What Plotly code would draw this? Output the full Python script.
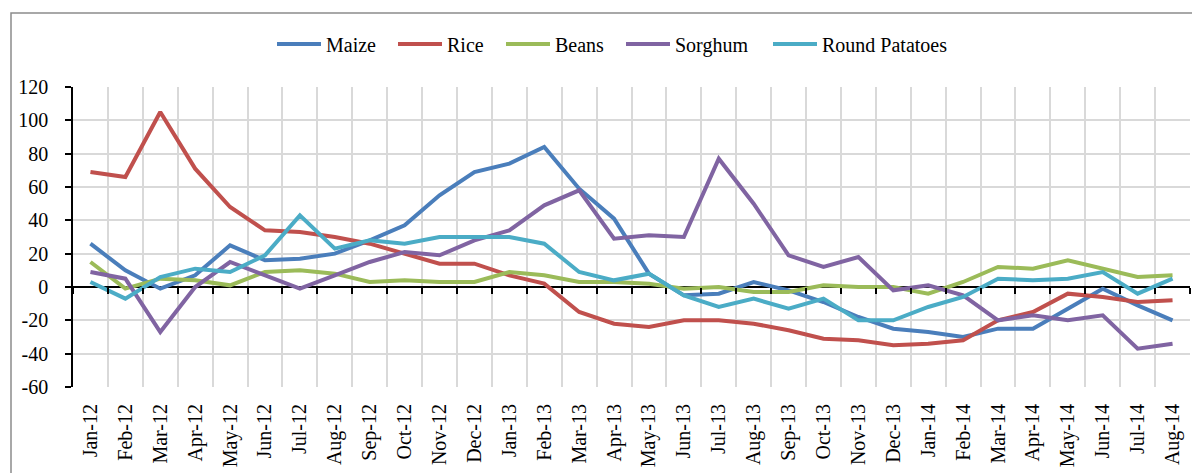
import plotly.graph_objects as go

months = ["Jan-12","Feb-12","Mar-12","Apr-12","May-12","Jun-12","Jul-12","Aug-12","Sep-12","Oct-12","Nov-12","Dec-12",
          "Jan-13","Feb-13","Mar-13","Apr-13","May-13","Jun-13","Jul-13","Aug-13","Sep-13","Oct-13","Nov-13","Dec-13",
          "Jan-14","Feb-14","Mar-14","Apr-14","May-14","Jun-14","Jul-14","Aug-14"]

maize = [26, 10, -1, 7, 25, 16, 17, 20, 28, 37, 55, 69, 74, 84, 59, 41, 8, -5, -4, 3, -2, -9, -18, -25, -27, -30, -25, -25, -13, -1, -11, -20]
rice = [69, 66, 105, 71, 48, 34, 33, 30, 26, 20, 14, 14, 7, 2, -15, -22, -24, -20, -20, -22, -26, -31, -32, -35, -34, -32, -20, -15, -4, -6, -9, -8]
beans = [15, -1, 5, 4, 1, 9, 10, 8, 3, 4, 3, 3, 9, 7, 3, 3, 2, -1, 0, -3, -3, 1, 0, 0, -4, 3, 12, 11, 16, 11, 6, 7]
sorghum = [9, 5, -27, 0, 15, 7, -1, 7, 15, 21, 19, 28, 34, 49, 58, 29, 31, 30, 77, 50, 19, 12, 18, -2, 1, -5, -20, -17, -20, -17, -37, -34]
potatoes = [3, -7, 6, 11, 9, 19, 43, 23, 28, 26, 30, 30, 30, 26, 9, 4, 8, -5, -12, -7, -13, -7, -20, -20, -12, -6, 5, 4, 5, 9, -4, 5]

y_tick_values = [-60, -40, -20, 0, 20, 40, 60, 80, 100, 120]
y_tick_labels = ["-60", "-40", "-20", "0", "20", "40", "60", "80", "100", "120"]

names = ["Maize", "Rice", "Beans", "Sorghum", "Round Patatoes"]
values = [maize, rice, beans, sorghum, potatoes]
colors = ["#4A7EBB", "#C0504D", "#9BBB59", "#8064A2", "#4BACC6"]
# legend entry left edges (px in the page) as laid out in the reference
legend_px = [279, 400, 508, 628, 775]

font_family = "Liberation Serif, Times New Roman, serif"
OFF = 8  # default page body margin
W, H = 1200 - OFF, 473 - OFF
L, T = 73 - OFF, 87 - OFF
R = W - (1190 - OFF)
B = H - (387 - OFF)
PW = W - L - R
PH = H - T - B

fig = go.Figure()
legend_ids = ["legend", "legend2", "legend3", "legend4", "legend5"]
for name, vals, color, lid in zip(names, values, colors, legend_ids):
    fig.add_trace(go.Scatter(x=months, y=vals, name=name, mode="lines",
                             line=dict(color=color, width=4), legend=lid))

# invisible trace for the tick-mark axis at y=0
fig.add_trace(go.Scatter(x=months, y=[None] * len(months), xaxis="x2", showlegend=False,
                         hoverinfo="skip", mode="lines"))

ymin, ymax = y_tick_values[0], y_tick_values[-1]

legends = {}
for lid, px in zip(legend_ids, legend_px):
    legends[lid] = dict(orientation="h", x=(px - OFF - 7 - L) / PW, xanchor="left",
                        y=(T + PH - (44 - OFF)) / PH, yanchor="middle",
                        font=dict(size=20, family=font_family, color="black"),
                        bgcolor="rgba(0,0,0,0)", borderwidth=0, itemwidth=44)

fig.update_layout(
    width=W, height=H,
    margin=dict(l=L, r=R, t=T, b=B, autoexpand=False),
    paper_bgcolor="white", plot_bgcolor="white",
    font=dict(family=font_family, size=20, color="black"),
    showlegend=True,
    **legends,
    xaxis=dict(type="category", categoryorder="array", categoryarray=months,
               range=[-0.5, len(months) - 0.5], automargin=False,
               showgrid=True, gridcolor="#D9D9D9", gridwidth=1.5, tickson="boundaries",
               ticks="", tickangle=-90, tickfont=dict(size=20, family=font_family),
               showline=False, zeroline=False, ticklabelstandoff=12),
    xaxis2=dict(type="category", categoryorder="array", categoryarray=months,
                range=[-0.5, len(months) - 0.5], overlaying="x", anchor="free",
                position=(0 - ymin) / (ymax - ymin), side="bottom", automargin=False,
                showgrid=False, showticklabels=False, ticks="outside", ticklen=6,
                tickcolor="black", tickwidth=1.5, tickson="boundaries",
                showline=False, zeroline=False),
    yaxis=dict(range=[ymin, ymax], tickmode="array", tickvals=y_tick_values,
               ticktext=y_tick_labels, automargin=False,
               showgrid=True, gridcolor="#D9D9D9", gridwidth=1.5,
               zeroline=True, zerolinecolor="black", zerolinewidth=1.5,
               showline=True, linecolor="black", linewidth=1.5,
               ticks="outside", ticklen=6, tickcolor="black", tickwidth=1.5,
               tickfont=dict(size=20, family=font_family), ticklabelstandoff=13),
    shapes=[dict(type="rect", xref="paper", yref="paper",
                 x0=(11 - OFF - L) / PW, x1=(1215 - OFF - L) / PW,
                 y0=-0.5, y1=(T + PH - (13 - OFF)) / PH,
                 line=dict(color="#8C8C8C", width=1.5), fillcolor="rgba(0,0,0,0)",
                 layer="below")],
)

fig.write_html("out.html")
